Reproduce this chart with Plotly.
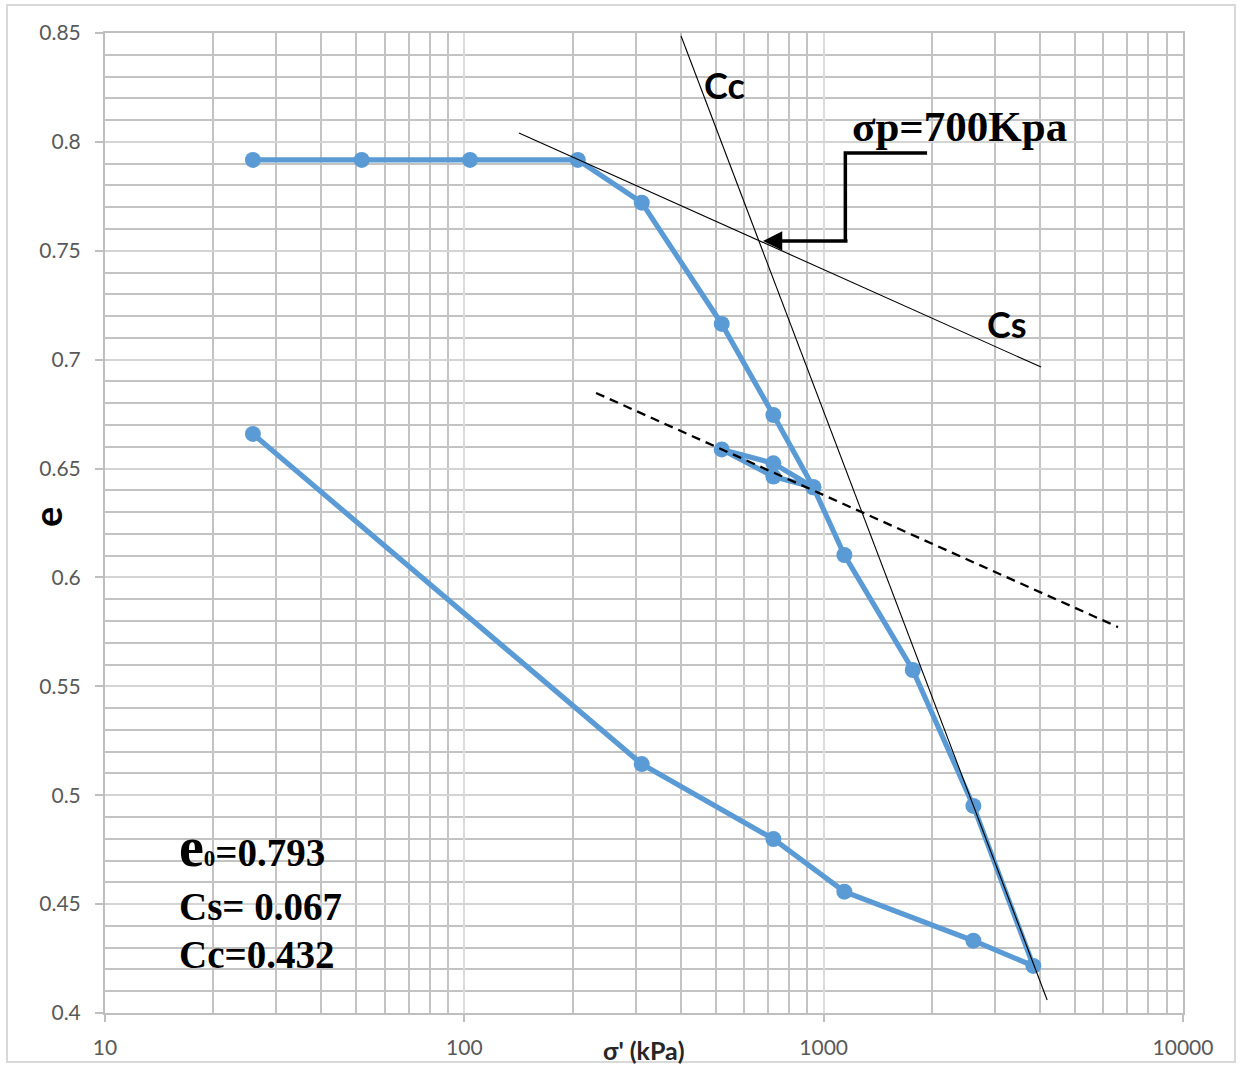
import numpy as np
import plotly.graph_objects as go

# Oedometer test: effective stress (kPa) vs void ratio, in test order
stress_kpa = [25.8, 51.8, 103.7, 206.9, 311.7, 520.4, 724.4, 936.1,
              724.4, 520.4, 724.4, 936.1,
              1141.7, 1770.0, 2610.0, 3833.0,
              2610.0, 1141.7, 724.4, 311.7, 25.8]
void_ratio = [0.7917, 0.7917, 0.7917, 0.7917, 0.7721, 0.7164, 0.6746, 0.6414,
              0.6524, 0.6588, 0.6463, 0.6414,
              0.6103, 0.5575, 0.4951, 0.4216,
              0.4332, 0.4557, 0.4799, 0.5143, 0.6659]

# Casagrande construction lines (end points)
cs_line_x = [141.9, 4027.0]
cs_line_y = [0.8041, 0.6966]
cc_line_x = [401.0, 4188.0]
cc_line_y = [0.8486, 0.4060]
swell_line_x = [232.6, 6592.0]
swell_line_y = [0.6847, 0.5772]

# Leader pointing at the preconsolidation pressure
leader_x = [1940.0, 1149.0, 1149.0]
leader_y = [0.7949, 0.7949, 0.7545]
sigma_p_tip = 678.0
sigma_p_e = 0.7545

y_ticks = [0.4, 0.45, 0.5, 0.55, 0.6, 0.65, 0.7, 0.75, 0.8, 0.85]
y_tick_text = ["0.4", "0.45", "0.5", "0.55", "0.6", "0.65", "0.7", "0.75", "0.8", "0.85"]
x_ticks = [10, 100, 1000, 10000]
x_tick_text = ["10", "100", "1000", "10000"]
x_minor = [m * 10 ** d for d in (1, 2, 3) for m in range(2, 10)]

BLUE = "#5b9bd5"
GRID = "#c3c3c3"

fig = go.Figure()

fig.add_trace(go.Scatter(
    x=stress_kpa, y=void_ratio, mode="lines+markers",
    line=dict(color=BLUE, width=5.2),
    marker=dict(color=BLUE, size=16),
    hoverinfo="skip", showlegend=False))

fig.add_trace(go.Scatter(x=cs_line_x, y=cs_line_y, mode="lines",
                         line=dict(color="black", width=1.1),
                         hoverinfo="skip", showlegend=False))
fig.add_trace(go.Scatter(x=cc_line_x, y=cc_line_y, mode="lines",
                         line=dict(color="black", width=1.1),
                         hoverinfo="skip", showlegend=False))
fig.add_trace(go.Scatter(x=swell_line_x, y=swell_line_y, mode="lines",
                         line=dict(color="black", width=2.3, dash="9px,6px"),
                         hoverinfo="skip", showlegend=False))
fig.add_trace(go.Scatter(x=leader_x, y=leader_y, mode="lines",
                         line=dict(color="black", width=3.5),
                         hoverinfo="skip", showlegend=False))

annotations = [
    # arrow head at sigma_p
    dict(x=np.log10(sigma_p_tip), y=sigma_p_e, xref="x", yref="y",
         text="", showarrow=True, ax=86, ay=0, axref="pixel", ayref="pixel",
         arrowhead=2, arrowsize=1.1, arrowwidth=3.5, arrowcolor="black",
         standoff=0),
    dict(x=0.5751, y=0.947, xref="paper", yref="paper", text="<b>Cc</b>",
         showarrow=False, font=dict(family="Lato", size=36, color="black"),
         xanchor="center", yanchor="middle"),
    dict(x=0.8367, y=0.703, xref="paper", yref="paper", text="<b>Cs</b>",
         showarrow=False, font=dict(family="Lato", size=36, color="black"),
         xanchor="center", yanchor="middle"),
    dict(x=0.691, y=0.905, xref="paper", yref="paper", text="<b>σp=700Kpa</b>",
         showarrow=False, font=dict(family="Liberation Serif", size=43, color="black"),
         xanchor="left", yanchor="middle"),
    dict(x=0.0668, y=0.169, xref="paper", yref="paper",
         text="<b><span style='font-size:56px'>e</span>"
              "<span style='font-size:23px'>0</span>=0.793</b>",
         showarrow=False, font=dict(family="Liberation Serif", size=39, color="black"),
         xanchor="left", yanchor="middle"),
    dict(x=0.0668, y=0.1082, xref="paper", yref="paper", text="<b>Cs= 0.067</b>",
         showarrow=False, font=dict(family="Liberation Serif", size=39, color="black"),
         xanchor="left", yanchor="middle"),
    dict(x=0.0668, y=0.0592, xref="paper", yref="paper", text="<b>Cc=0.432</b>",
         showarrow=False, font=dict(family="Liberation Serif", size=39, color="black"),
         xanchor="left", yanchor="middle"),
    # axis titles
    dict(x=0.5, y=-0.0378, xref="paper", yref="paper", text="<b>σ' (kPa)</b>",
         showarrow=False, font=dict(family="Lato", size=25, color="#262626"),
         xanchor="center", yanchor="middle"),
    dict(x=-0.0538, y=0.506, xref="paper", yref="paper", text="<b>e</b>",
         showarrow=False, textangle=-90,
         font=dict(family="Lato", size=38, color="black"),
         xanchor="center", yanchor="middle"),
]

fig.update_layout(
    width=1242, height=1065,
    margin=dict(l=105, r=59, t=33, b=52, autoexpand=False),
    paper_bgcolor="white", plot_bgcolor="white",
    annotations=annotations,
    shapes=[dict(type="rect", xref="paper", yref="paper",
                 x0=(7 - 105) / 1078, x1=(1235 - 105) / 1078,
                 y0=(1013 - 1062) / 980, y1=(1013 - 5) / 980,
                 line=dict(color="#d9d9d9", width=2), fillcolor="rgba(0,0,0,0)",
                 layer="below")],
)

fig.update_xaxes(
    type="log", range=[1, 4], automargin=False,
    tickmode="array", tickvals=x_ticks, ticktext=x_tick_text,
    ticks="outside", ticklen=7, tickwidth=2, tickcolor="#bfbfbf",
    ticklabelstandoff=8,
    tickfont=dict(family="Lato", size=21, color="#595959"),
    showgrid=True, gridcolor="#dcdcdc", gridwidth=2,
    minor=dict(tickmode="array", tickvals=x_minor, showgrid=True,
               gridcolor=GRID, gridwidth=2, ticks=""),
    showline=True, linecolor="#bfbfbf", linewidth=2, mirror=True,
    zeroline=False,
)
fig.update_yaxes(
    range=[0.4, 0.85], automargin=False,
    tickmode="array", tickvals=y_ticks, ticktext=y_tick_text,
    ticks="outside", ticklen=8, tickwidth=2, tickcolor="#bfbfbf",
    ticklabelstandoff=10,
    tickfont=dict(family="Lato", size=21, color="#595959"),
    showgrid=True, gridcolor="#d4d4d4", gridwidth=2,
    minor=dict(dtick=0.01, showgrid=True, gridcolor=GRID, gridwidth=2, ticks=""),
    showline=True, linecolor="#bfbfbf", linewidth=2, mirror=True,
    zeroline=False,
)

fig.write_html("out.html")
